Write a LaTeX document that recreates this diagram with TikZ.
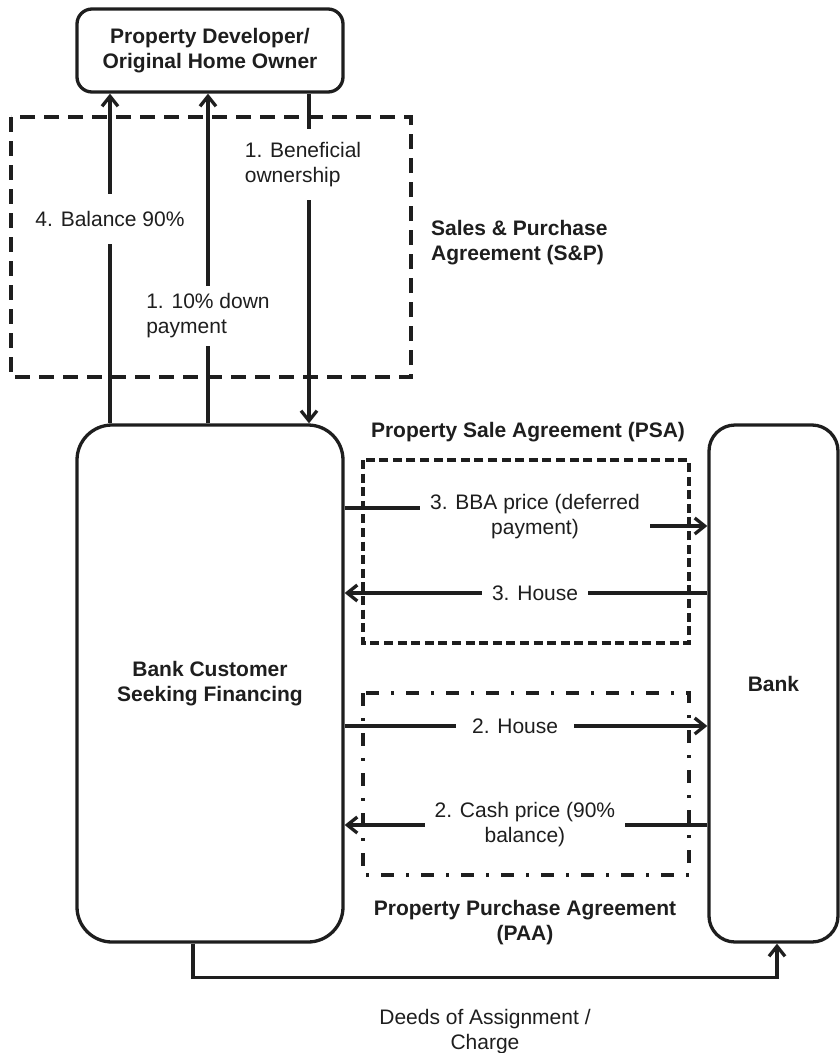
\documentclass[tikz,border=0pt]{standalone}
\usepackage{fontspec}
\setmainfont{Liberation Sans}
\usetikzlibrary{arrows.meta}
\definecolor{ink}{HTML}{1E1E1E}
\begin{document}
\begin{tikzpicture}[x=1pt,y=-1pt,
  every node/.style={font=\fontsize{21}{25}\selectfont, text=ink, inner sep=0pt},
  party/.style={draw=ink, line width=3.3pt, align=center, font=\fontsize{21}{25}\selectfont\bfseries},
  flow/.style={draw=ink, line width=3.3pt, -{Straight Barb[length=10pt,width=16pt,line width=3.3pt]}},
  cut/.style={fill=white, inner xsep=10pt, inner ysep=12pt, align=center},
  title/.style={align=center, font=\fontsize{21}{25}\selectfont\bfseries},
  spbox/.style={draw=ink, line width=3.3pt, dash pattern=on 15pt off 9pt},
  psabox/.style={draw=ink, line width=3.3pt, dash pattern=on 9pt off 4.6pt},
  paabox/.style={draw=ink, line width=3.3pt, dash pattern=on 13pt off 12pt on 3pt off 12pt}]

\useasboundingbox (0,0) rectangle (840,1053);

% agreement frames
\draw[spbox]  (11,117) rectangle (411,377);
\draw[psabox] (363,460) rectangle (689,643);
\draw[paabox] (363,693) rectangle (689,875);

% parties
\node[party, rounded corners=15pt, minimum width=266pt, minimum height=83pt]
  (dev) at (210,50.5) {Property Developer/\\Original Home Owner};
\node[party, rounded corners=35pt, minimum width=266pt, minimum height=517pt]
  (cust) at (210,683.5) {Bank Customer\\Seeking Financing};
\node[party, rounded corners=26pt, minimum width=129pt, minimum height=517pt]
  (bank) at (773.5,683.5) {Bank};

% columns and rows used by the connectors
\coordinate (xa) at (110,0);
\coordinate (xb) at (208,0);
\coordinate (xc) at (309,0);
\coordinate (xd) at (193,0);
\coordinate (xe) at (777,0);
\coordinate (ya) at (0,508);
\coordinate (yb) at (0,526);
\coordinate (yc) at (0,593);
\coordinate (yd) at (0,726);
\coordinate (ye) at (0,825);

% S&P flows
\draw[flow] (cust.north -| xa) -- node[cut, pos=0.62, inner ysep=17pt] {4. Balance 90\%} (dev.south -| xa);
\draw[flow] (cust.north -| xb) -- node[cut, pos=0.326, inner ysep=8pt, align=left] {1. 10\% down\\payment} (dev.south -| xb);
\draw[flow] (dev.south -| xc) -- node[cut, pos=0.215, inner ysep=13pt, align=left, xshift=-6pt] {1. Beneficial\\ownership} (cust.north -| xc);

% PSA flows
\draw[flow] (cust.east |- ya) -- (535,508) -- node[cut] {3. BBA price (deferred\\payment)} (535,526) -- (bank.west |- yb);
\draw[flow] (bank.west |- yc) -- node[cut, pos=0.475] {3. House} (cust.east |- yc);

% PAA flows
\draw[flow] (cust.east |- yd) -- node[cut, pos=0.47, inner xsep=16pt] {2. House} (bank.west |- yd);
\draw[flow] (bank.west |- ye) -- node[cut, pos=0.503] {2. Cash price (90\%\\balance)} (cust.east |- ye);

% deeds
\draw[flow] (cust.south -| xd) -- ++(0,34) -| (bank.south -| xe);

% captions
\node[title, anchor=west, align=left] (sp) at (431,242.5) {Sales \& Purchase\\Agreement (S\&P)};
\node[title] (psa) at (528,432) {Property Sale Agreement (PSA)};
\node[title] (paa) at (525,923) {Property Purchase Agreement\\(PAA)};
\node[align=center] (deeds) at (485,1032) {Deeds of Assignment /\\Charge};
\end{tikzpicture}
\end{document}
